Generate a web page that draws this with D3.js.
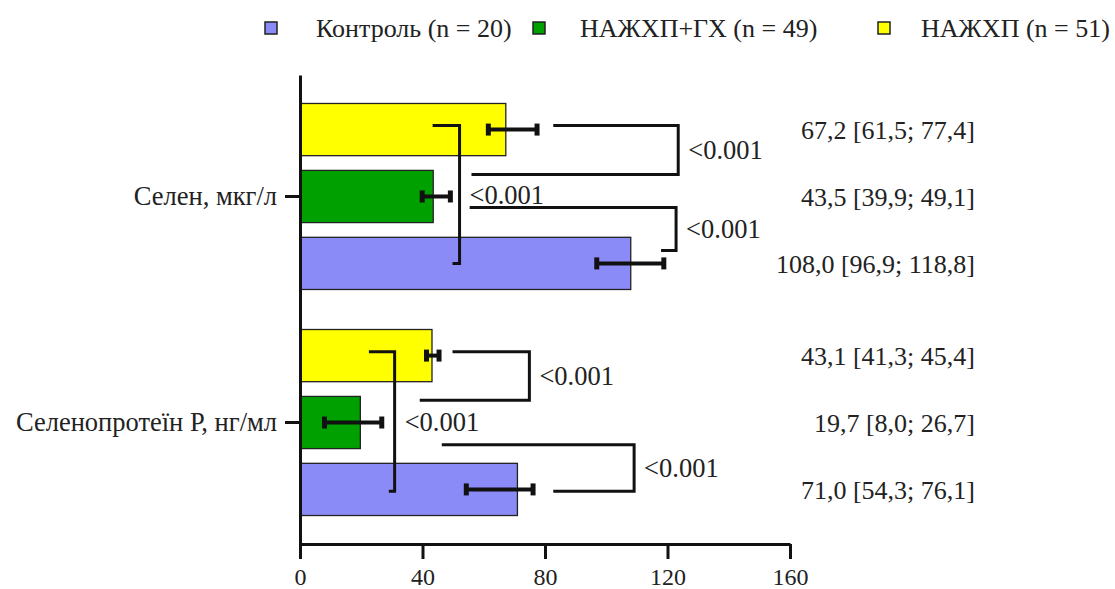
<!DOCTYPE html>
<html>
<head>
<meta charset="utf-8">
<script src="https://cdn.jsdelivr.net/npm/d3@7"></script>
<style>
  body { margin: 0; background: #fff; }
  svg text { font-family: "Liberation Serif", "Times New Roman", Tinos, "DejaVu Serif", serif; fill: #222; }
</style>
</head>
<body>
<script>
// categories on the y axis
var categories = ["Селен, мкг/л", "Селенопротеїн Р, нг/мл"];

// series (legend order)
var seriesNames = ["Контроль (n = 20)", "НАЖХП+ГХ (n = 49)", "НАЖХП (n = 51)"];
var seriesColors = ["#8b8bf7", "#00a000", "#ffff00"];

// medians and quartiles, one value per category
var controlMed = [108.0, 71.0];
var controlQ1  = [96.9, 54.3];
var controlQ3  = [118.8, 76.1];

var gxMed = [43.5, 19.7];
var gxQ1  = [39.9, 8.0];
var gxQ3  = [49.1, 26.7];

var nafldMed = [67.2, 43.1];
var nafldQ1  = [61.5, 41.3];
var nafldQ3  = [77.4, 45.4];

var xTicks = [0, 40, 80, 120, 160];

// significance brackets (x in data units, y as fraction of the group band)
var bracketCat      = [0, 0, 0, 1, 1, 1];
var bracketX        = [123.5, 122.8, 52.1, 74.9, 109.1, 30.9];
var bracketTopFrom  = [82.7, 55.4, 43.3, 49.8, 46.3, 22.5];
var bracketBotFrom  = [56.0, 117.9, 49.8, 39.1, 82.7, 29.0];
var bracketTop      = [0.118, 0.559, 0.118, 0.12, 0.62, 0.12];
var bracketBot      = [0.382, 0.79, 0.86, 0.38, 0.87, 0.87];
var bracketLabel    = ["<0.001", "<0.001", "<0.001", "<0.001", "<0.001", "<0.001"];

var W = 1115, H = 589;
var serif = '"Liberation Serif", "Times New Roman", Tinos, "DejaVu Serif", serif';

var svg = d3.select("body").append("svg")
  .attr("width", W)
  .attr("height", H);

var x = d3.scaleLinear().domain([0, 160]).range([300, 790]);

var y = d3.scaleBand()
  .domain(categories)
  .range([75, 544])
  .paddingInner(0.177)
  .paddingOuter(0.126);

// top to bottom inside a group: НАЖХП, НАЖХП+ГХ, Контроль
var inner = d3.scaleBand()
  .domain([2, 1, 0])
  .range([0, y.bandwidth()])
  .paddingInner(0.22);

var med = [controlMed, gxMed, nafldMed];
var q1 = [controlQ1, gxQ1, nafldQ1];
var q3 = [controlQ3, gxQ3, nafldQ3];

var fmt = function(v) { return d3.format(".1f")(v).replace(".", ","); };

var rows = [];
categories.forEach(function(c, ci) {
  [2, 1, 0].forEach(function(s) {
    rows.push({ cat: c, ci: ci, s: s, med: med[s][ci], q1: q1[s][ci], q3: q3[s][ci] });
  });
});

function rowY(d) { return y(d.cat) + inner(d.s); }
function rowMid(d) { return rowY(d) + inner.bandwidth() / 2; }

// bars
svg.append("g").selectAll("rect")
  .data(rows)
  .enter()
  .append("rect")
  .attr("x", x(0))
  .attr("y", rowY)
  .attr("width", function(d) { return x(d.med) - x(0); })
  .attr("height", inner.bandwidth())
  .attr("fill", function(d) { return seriesColors[d.s]; })
  .attr("stroke", "#222")
  .attr("stroke-width", 1.3);

// error bars (interquartile range)
var eb = svg.append("g").selectAll("g")
  .data(rows)
  .enter()
  .append("g");

eb.append("line")
  .attr("x1", function(d) { return x(d.q1); })
  .attr("x2", function(d) { return x(d.q3); })
  .attr("y1", rowMid)
  .attr("y2", rowMid)
  .attr("stroke", "#111")
  .attr("stroke-width", 4);

eb.selectAll("line.cap")
  .data(function(d) { return [d.q1, d.q3].map(function(v) { return { v: v, m: rowMid(d) }; }); })
  .enter()
  .append("line")
  .attr("class", "cap")
  .attr("x1", function(d) { return x(d.v); })
  .attr("x2", function(d) { return x(d.v); })
  .attr("y1", function(d) { return d.m - 6; })
  .attr("y2", function(d) { return d.m + 6; })
  .attr("stroke", "#111")
  .attr("stroke-width", 5);

// value labels on the right
svg.append("g").selectAll("text")
  .data(rows)
  .enter()
  .append("text")
  .attr("x", 975)
  .attr("y", rowMid)
  .attr("dy", "0.35em")
  .attr("text-anchor", "end")
  .style("font-size", "26px")
  .text(function(d) { return fmt(d.med) + " [" + fmt(d.q1) + "; " + fmt(d.q3) + "]"; });

// brackets
var brackets = bracketX.map(function(bx, i) {
  var g0 = y(categories[bracketCat[i]]);
  var bw = y.bandwidth();
  return {
    x: x(bx),
    x1: x(bracketTopFrom[i]),
    x2: x(bracketBotFrom[i]),
    y1: g0 + bracketTop[i] * bw,
    y2: g0 + bracketBot[i] * bw,
    label: bracketLabel[i]
  };
});

var bg = svg.append("g");
bg.selectAll("path")
  .data(brackets)
  .enter()
  .append("path")
  .attr("d", function(d) {
    return "M" + d.x1 + "," + d.y1 + "H" + d.x + "V" + d.y2 + "H" + d.x2;
  })
  .attr("fill", "none")
  .attr("stroke", "#111")
  .attr("stroke-width", 3);

bg.selectAll("text")
  .data(brackets)
  .enter()
  .append("text")
  .attr("x", function(d) { return d.x + 10; })
  .attr("y", function(d) { return (d.y1 + d.y2) / 2; })
  .attr("dy", "0.35em")
  .style("font-size", "26.5px")
  .text(function(d) { return d.label; });

// x axis
var xAxis = svg.append("g")
  .attr("transform", "translate(0,544)")
  .call(d3.axisBottom(x).tickValues(xTicks).tickSize(15).tickSizeOuter(0).tickPadding(9).tickFormat(d3.format("d")));

xAxis.attr("font-family", null);
xAxis.select(".domain").attr("stroke", "#111").attr("stroke-width", 3);
xAxis.selectAll(".tick line").attr("stroke", "#111").attr("stroke-width", 3);
xAxis.selectAll(".tick text")
  .style("font-size", "24px")
  .style("font-family", serif)
  .attr("fill", "#222");

// y axis
var yAxis = svg.append("g")
  .attr("transform", "translate(300,0)")
  .call(d3.axisLeft(y).tickSize(15).tickSizeOuter(0).tickPadding(8));

yAxis.attr("font-family", null);
yAxis.select(".domain").attr("stroke", "#111").attr("stroke-width", 3);
yAxis.selectAll(".tick line").attr("stroke", "#111").attr("stroke-width", 3);
yAxis.selectAll(".tick text")
  .style("font-size", "26.5px")
  .style("font-family", serif)
  .attr("fill", "#222");

// legend
var legendX = [265, 533, 878];
var legendTextX = [316, 580, 921];
var lg = svg.append("g").selectAll("g")
  .data(seriesNames)
  .enter()
  .append("g");

lg.append("rect")
  .attr("x", function(d, i) { return legendX[i]; })
  .attr("y", 22)
  .attr("width", 12)
  .attr("height", 12)
  .attr("fill", function(d, i) { return seriesColors[i]; })
  .attr("stroke", "#222")
  .attr("stroke-width", 1.5);

lg.append("text")
  .attr("x", function(d, i) { return legendTextX[i]; })
  .attr("y", 28)
  .attr("dy", "0.35em")
  .style("font-size", "26px")
  .text(function(d) { return d; });
</script>
</body>
</html>
